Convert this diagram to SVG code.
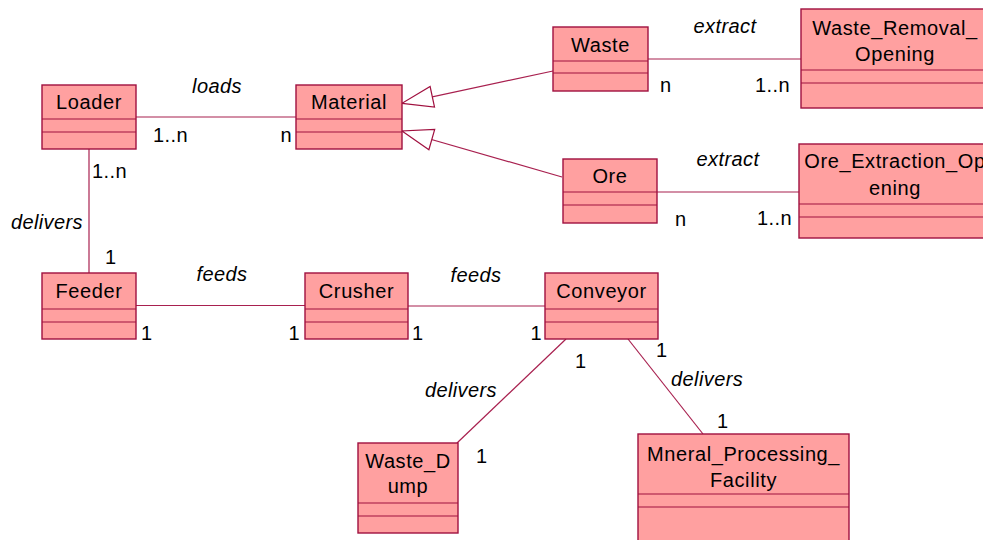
<svg xmlns="http://www.w3.org/2000/svg" width="983" height="540" viewBox="0 0 983 540">
  <style>
    .box { fill: #FFA0A0; stroke: #A0103F; stroke-width: 1.4; }
    .div { stroke: #A0103F; stroke-width: 1.2; fill: none; }
    .name { font-family: "Liberation Sans", Arial, sans-serif; font-size: 20px; letter-spacing: 0.6px; fill: #000; text-anchor: middle; }
    .lbl { font-family: "Liberation Sans", Arial, sans-serif; font-size: 20px; letter-spacing: 0.4px; fill: #000; font-style: italic; }
    .mul { font-family: "Liberation Sans", Arial, sans-serif; font-size: 20px; letter-spacing: 0.4px; fill: #000; }
    .edge { stroke: #A8204F; stroke-width: 1.2; fill: none; }
    .mid { text-anchor: middle; }
    .end { text-anchor: end; }
  </style>
  <defs>
    <!-- hollow generalization triangle, tip at the marker origin -->
    <marker id="gen" markerUnits="userSpaceOnUse" viewBox="-34 -12 36 24" refX="0" refY="0" markerWidth="36" markerHeight="24" orient="auto">
      <path d="M0,0 L-31,-10.5 L-31,10.5 Z" fill="#fff" stroke="#A0103F" stroke-width="1.2"/>
    </marker>
  </defs>

  <rect width="983" height="540" fill="#fff"/>

  <!-- connectors -->
  <g id="connectors">
    <line class="edge" x1="136" y1="117" x2="296" y2="117"/>
    <line class="edge" x1="648" y1="59" x2="801" y2="59"/>
    <line class="edge" x1="657" y1="192" x2="799" y2="192"/>
    <line class="edge" x1="89" y1="149" x2="89" y2="273"/>
    <line class="edge" x1="136" y1="305.5" x2="305" y2="305.5"/>
    <line class="edge" x1="408" y1="306" x2="545" y2="306"/>
    <line class="edge" x1="566" y1="339" x2="457" y2="443"/>
    <line class="edge" x1="628" y1="339" x2="703" y2="434"/>
    <line class="edge" x1="553" y1="71" x2="402" y2="103.3" marker-end="url(#gen)"/>
    <line class="edge" x1="562" y1="177" x2="402" y2="131" marker-end="url(#gen)"/>

    <text class="lbl mid" x="217" y="93">loads</text>
    <text class="mul" x="153" y="142">1..n</text>
    <text class="mul end" x="292" y="142">n</text>
    <text class="mul" x="92" y="178">1..n</text>
    <text class="lbl end" x="83" y="229">delivers</text>
    <text class="mul" x="105" y="264">1</text>
    <text class="lbl mid" x="222" y="281">feeds</text>
    <text class="mul" x="141" y="340">1</text>
    <text class="mul end" x="300" y="340">1</text>
    <text class="mul" x="412" y="340">1</text>
    <text class="lbl mid" x="476" y="282">feeds</text>
    <text class="mul end" x="542" y="340">1</text>
    <text class="mul" x="575" y="368">1</text>
    <text class="mul" x="656" y="357">1</text>
    <text class="lbl end" x="497" y="397">delivers</text>
    <text class="mul" x="476" y="463">1</text>
    <text class="lbl" x="671" y="386">delivers</text>
    <text class="mul" x="717" y="428">1</text>
    <text class="lbl mid" x="725" y="33">extract</text>
    <text class="mul" x="660" y="92">n</text>
    <text class="mul end" x="790" y="92">1..n</text>
    <text class="lbl mid" x="728" y="166">extract</text>
    <text class="mul" x="675" y="226">n</text>
    <text class="mul end" x="792" y="225">1..n</text>
  </g>

  <g id="Loader">
    <rect class="box" x="42" y="85" width="94" height="64"/>
    <path class="div" d="M42,119 H136 M42,132 H136"/>
    <text class="name" x="89" y="109">Loader</text>
  </g>

  <g id="Material">
    <rect class="box" x="296" y="85" width="106" height="64"/>
    <path class="div" d="M296,119 H402 M296,132 H402"/>
    <text class="name" x="349" y="109">Material</text>
  </g>

  <g id="Waste">
    <rect class="box" x="553" y="27" width="95" height="64"/>
    <path class="div" d="M553,61 H648 M553,73 H648"/>
    <text class="name" x="600.5" y="52">Waste</text>
  </g>

  <g id="Waste_Removal_Opening">
    <rect class="box" x="801" y="9" width="188" height="99"/>
    <path class="div" d="M801,70 H989 M801,83 H989"/>
    <text class="name" x="895" y="35">Waste_Removal_</text>
    <text class="name" x="895" y="61">Opening</text>
  </g>

  <g id="Ore">
    <rect class="box" x="563" y="159" width="94" height="64"/>
    <path class="div" d="M563,192 H657 M563,205 H657"/>
    <text class="name" x="610" y="183">Ore</text>
  </g>

  <g id="Ore_Extraction_Opening">
    <rect class="box" x="799" y="144" width="192" height="94"/>
    <path class="div" d="M799,204 H991 M799,217 H991"/>
    <text class="name" x="895" y="168">Ore_Extraction_Op</text>
    <text class="name" x="895" y="195">ening</text>
  </g>

  <g id="Feeder">
    <rect class="box" x="42" y="273" width="94" height="66"/>
    <path class="div" d="M42,309 H136 M42,322 H136"/>
    <text class="name" x="89" y="298">Feeder</text>
  </g>

  <g id="Crusher">
    <rect class="box" x="305" y="273" width="103" height="66"/>
    <path class="div" d="M305,309 H408 M305,322 H408"/>
    <text class="name" x="356.5" y="298">Crusher</text>
  </g>

  <g id="Conveyor">
    <rect class="box" x="545" y="273" width="113" height="66"/>
    <path class="div" d="M545,309 H658 M545,322 H658"/>
    <text class="name" x="601.5" y="298">Conveyor</text>
  </g>

  <g id="Waste_Dump">
    <rect class="box" x="358" y="443" width="100" height="90"/>
    <path class="div" d="M358,503 H458 M358,516 H458"/>
    <text class="name" x="408" y="468">Waste_D</text>
    <text class="name" x="408" y="493">ump</text>
  </g>

  <g id="Mneral_Processing_Facility">
    <rect class="box" x="638" y="434" width="211" height="120"/>
    <path class="div" d="M638,494 H849 M638,507 H849"/>
    <text class="name" x="743.5" y="461">Mneral_Processing_</text>
    <text class="name" x="743.5" y="487">Facility</text>
  </g>
</svg>
